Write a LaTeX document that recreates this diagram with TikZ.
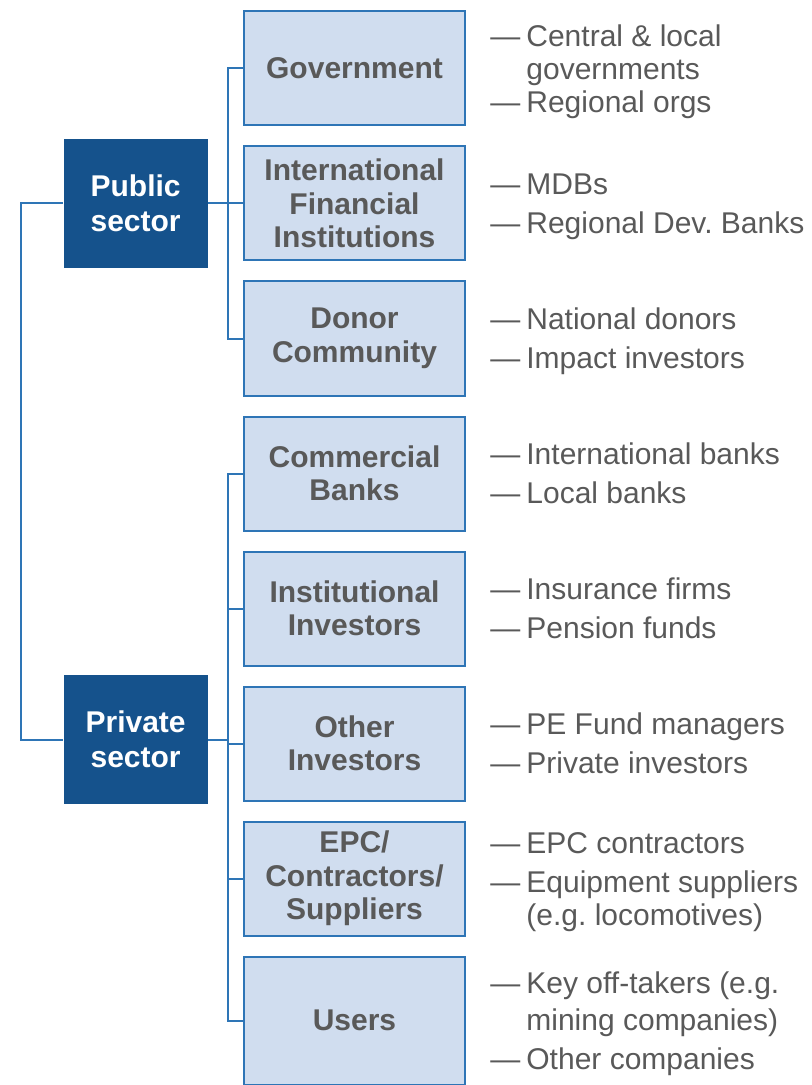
\documentclass[tikz,border=0pt]{standalone}
\usepackage{fontspec}
\setmainfont{Liberation Sans}
\usetikzlibrary{positioning}
\definecolor{deepblue}{RGB}{21,82,140}
\definecolor{paleblue}{RGB}{208,221,239}
\definecolor{edgeblue}{RGB}{46,117,182}
\definecolor{textgray}{RGB}{89,89,89}
\newcommand{\itemgap}{\\[3pt]}
\frenchspacing

\begin{document}
\begin{tikzpicture}[
  x=0.5pt, y=-0.5pt,
  sectorbox/.style={
    fill=deepblue,
    text=white,
    font=\bfseries\fontsize{15}{17.5}\selectfont,
    align=center,
    minimum width=72pt,
    minimum height=64.5pt,
    inner sep=0pt
  },
  groupbox/.style={
    draw=edgeblue,
    line width=1pt,
    fill=paleblue,
    text=textgray,
    font=\bfseries\fontsize{15}{16.75}\selectfont,
    align=center,
    minimum width=110.5pt,
    minimum height=57pt,
    inner sep=2pt
  },
  itemlist/.style={
    text=textgray,
    font=\fontsize{15}{16.5}\selectfont,
    inner sep=0pt,
    anchor=west,
    yshift=-2pt
  },
  link/.style={draw=edgeblue, line width=1pt}
]
\useasboundingbox (0,0) rectangle (811,1085);

% middle column
\node[groupbox] (gov) at (354.5,68.5) {Government};
\node[groupbox,below=9.5pt of gov] (ifi) {International\\Financial\\Institutions};
\node[groupbox,below=9.5pt of ifi] (don) {Donor\\Community};
\node[groupbox,below=9.5pt of don] (com) {Commercial\\Banks};
\node[groupbox,below=9.5pt of com] (ins) {Institutional\\Investors};
\node[groupbox,below=9.5pt of ins] (oth) {Other\\Investors};
\node[groupbox,below=9.5pt of oth] (epc) {EPC/\\Contractors/\\Suppliers};
\node[groupbox,below=9.5pt of epc,minimum height=64pt] (usr) {Users};

% sectors
\node[sectorbox,left=17.5pt of ifi] (pub) {Public\\sector};
\node[sectorbox,left=17.5pt of oth,yshift=2pt] (prv) {Private\\sector};

% examples on the right
\node[itemlist,right=12pt of gov] {\begin{tabular}{@{}l@{\hspace{3pt}}l@{}}
  — & Central \& local\\ & governments\\ — & Regional orgs\end{tabular}};
\node[itemlist,right=12pt of ifi] {\begin{tabular}{@{}l@{\hspace{3pt}}l@{}}
  — & MDBs\itemgap — & Regional Dev. Banks\end{tabular}};
\node[itemlist,right=12pt of don] {\begin{tabular}{@{}l@{\hspace{3pt}}l@{}}
  — & National donors\itemgap — & Impact investors\end{tabular}};
\node[itemlist,right=12pt of com] {\begin{tabular}{@{}l@{\hspace{3pt}}l@{}}
  — & International banks\itemgap — & Local banks\end{tabular}};
\node[itemlist,right=12pt of ins] {\begin{tabular}{@{}l@{\hspace{3pt}}l@{}}
  — & Insurance firms\itemgap — & Pension funds\end{tabular}};
\node[itemlist,right=12pt of oth] {\begin{tabular}{@{}l@{\hspace{3pt}}l@{}}
  — & PE Fund managers\itemgap — & Private investors\end{tabular}};
\node[itemlist,right=12pt of epc] {\begin{tabular}{@{}l@{\hspace{3pt}}l@{}}
  — & EPC contractors\itemgap — & Equipment suppliers\\ & (e.g. locomotives)\end{tabular}};
\node[itemlist,right=12pt of usr] {\begin{tabular}{@{}l@{\hspace{3pt}}l@{}}
  — & Key off-takers (e.g.\\[2pt] & mining companies)\itemgap — & Other companies\end{tabular}};

% connectors
\coordinate (lsp) at ([xshift=-21pt]pub.west);
\coordinate (rsp) at ([xshift=-7.5pt]gov.west);
\draw[link] (pub.west) -- (pub.west -| lsp) -- (prv.west -| lsp) -- (prv.west);
\draw[link] (gov.west) -- (gov.west -| rsp) -- (don.west -| rsp) -- (don.west);
\draw[link] (com.west) -- (com.west -| rsp) -- (usr.west -| rsp) -- (usr.west);
\foreach \n in {ifi,ins,oth,epc}
  \draw[link] (\n.west -| rsp) -- (\n.west);
\draw[link] (pub.east) -- (pub.east -| rsp);
\draw[link] (prv.east) -- (prv.east -| rsp);
\end{tikzpicture}
\end{document}
